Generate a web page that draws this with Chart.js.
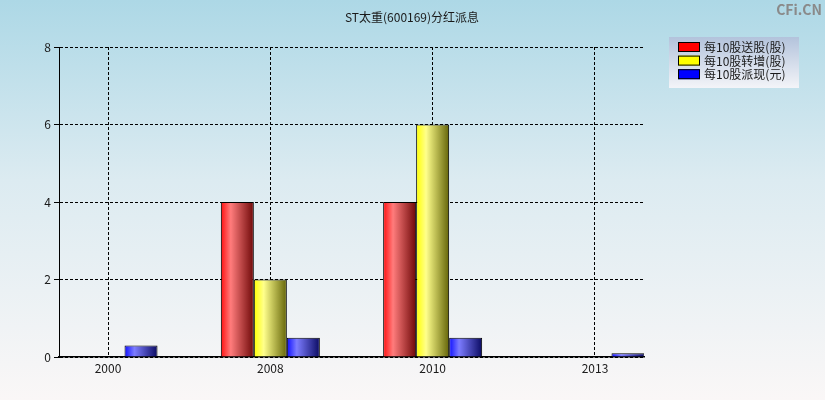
<!DOCTYPE html>
<html>
<head>
<meta charset="utf-8">
<script src="https://cdn.jsdelivr.net/npm/chart.js@4/dist/chart.umd.min.js"></script>
<style>
  html, body { margin: 0; padding: 0; }
  body { width: 825px; height: 400px; background: linear-gradient(to bottom, #add8e6 0%, #dcebf1 45%, #faf7f7 100%); }
  #wrap { position: relative; width: 825px; height: 400px; }
</style>
</head>
<body>
<div id="wrap"><canvas id="c" width="825" height="400"></canvas></div>
<script>
// 分红派息数据
var years = ['2000', '2008', '2010', '2013'];
var songGu = [null, 4, 4, null];      // 每10股送股(股)
var zhuanZeng = [null, 2, 6, null];   // 每10股转增(股)
var paiXian = [0.3, 0.5, 0.5, 0.1];   // 每10股派现(元)
var yTicks = [0, 2, 4, 6, 8];

var barColors = [
  ['#ff0f0f', '#ff7c7c', '#6e0808'],
  ['#ffff00', '#ffff8c', '#646408'],
  ['#0f0fff', '#7c7cff', '#0a0a62']
];
var FONT = '"Noto Sans CJK SC", "DejaVu Sans", sans-serif';

function toPoints(arr) {
  return arr.map(function(v, i) { return { x: i, y: v }; });
}

function barFill(ctx) {
  var chart = ctx.chart;
  var xs = chart.scales.x;
  var c = barColors[ctx.datasetIndex];
  if (!xs || ctx.dataIndex === undefined) return c[0];
  var p0 = xs.getPixelForValue(0), p1 = xs.getPixelForValue(1);
  if (!isFinite(p0) || !isFinite(p1) || p1 === p0) return c[0];
  var w = (p1 - p0) * 0.61 / 3;
  var cx = xs.getPixelForValue(ctx.dataIndex) + (ctx.datasetIndex - 1) * w;
  if (!isFinite(cx)) return c[0];
  var g = chart.ctx.createLinearGradient(cx - w / 2, 0, cx + w / 2, 0);
  g.addColorStop(0, c[0]);
  g.addColorStop(0.3, c[1]);
  g.addColorStop(1, c[2]);
  return g;
}

function makeSet(label, arr) {
  return {
    label: label,
    data: toPoints(arr),
    backgroundColor: barFill,
    borderColor: '#000',
    borderWidth: 1,
    borderSkipped: 'bottom',
    categoryPercentage: 0.61,
    barPercentage: 1
  };
}

var extras = {
  id: 'extras',
  afterDraw: function(chart) {
    var ctx = chart.ctx;
    ctx.save();
    // title
    ctx.fillStyle = '#1a1a1a';
    ctx.font = '12px ' + FONT;
    ctx.textAlign = 'center';
    ctx.textBaseline = 'middle';
    ctx.fillText('ST太重(600169)分红派息', 412, 17);
    // watermark
    ctx.fillStyle = '#8a8a8a';
    ctx.font = 'bold 14px ' + FONT;
    ctx.textAlign = 'right';
    ctx.fillText('CFi.CN', 822, 10);
    // legend
    var lx = 669, ly = 37, lw = 130, lh = 51;
    var g = ctx.createLinearGradient(0, ly, 0, ly + lh);
    g.addColorStop(0, '#b3c3dc');
    g.addColorStop(1, '#f3f4f8');
    ctx.fillStyle = g;
    ctx.fillRect(lx, ly, lw, lh);
    var solid = ['#ff0000', '#ffff00', '#0000ff'];
    ctx.font = '12px ' + FONT;
    ctx.textAlign = 'left';
    chart.data.datasets.forEach(function(ds, i) {
      var y = 47 + i * 13.6;
      ctx.fillStyle = solid[i];
      ctx.fillRect(678, y - 5, 22, 10);
      ctx.strokeStyle = '#000';
      ctx.lineWidth = 1;
      ctx.strokeRect(678.5, y - 4.5, 21, 9);
      ctx.fillStyle = '#1a1a1a';
      ctx.fillText(ds.label, 704, y + 0.5);
    });
    ctx.restore();
  }
};

new Chart(document.getElementById('c'), {
  type: 'bar',
  data: {
    datasets: [
      makeSet('每10股送股(股)', songGu),
      makeSet('每10股转增(股)', zhuanZeng),
      makeSet('每10股派现(元)', paiXian)
    ]
  },
  options: {
    responsive: false,
    animation: false,
    layout: { padding: { top: 47, right: 181, left: 0, bottom: 0 } },
    plugins: {
      colors: { enabled: false },
      legend: { display: false },
      title: { display: false },
      tooltip: { enabled: false }
    },
    scales: {
      x: {
        type: 'linear',
        offset: false,
        min: -0.302,
        max: 3.302,
        afterFit: function(s) { s.height = 43; },
        afterBuildTicks: function(s) {
          s.ticks = years.map(function(y, i) { return { value: i }; });
        },
        ticks: {
          callback: function(v) { return years[v]; },
          color: '#1a1a1a',
          font: { size: 12, family: FONT },
          maxRotation: 0,
          padding: 4
        },
        grid: {
          offset: false,
          color: '#000',
          lineWidth: 1,
          drawTicks: false,
          tickLength: 0
        },
        border: { display: true, color: '#000', width: 1.5, dash: [3, 2] }
      },
      y: {
        min: 0,
        max: 8,
        afterFit: function(s) { s.width = 59; },
        afterBuildTicks: function(s) {
          s.ticks = yTicks.map(function(v) { return { value: v }; });
        },
        ticks: {
          color: '#1a1a1a',
          font: { size: 12, family: FONT },
          padding: 3
        },
        grid: {
          color: '#000',
          lineWidth: 1,
          drawTicks: true,
          tickLength: 5,
          tickColor: '#000',
          tickBorderDash: []
        },
        border: { display: true, color: '#000', width: 1, dash: [3, 2] }
      }
    }
  },
  plugins: [extras]
});
</script>
</body>
</html>
